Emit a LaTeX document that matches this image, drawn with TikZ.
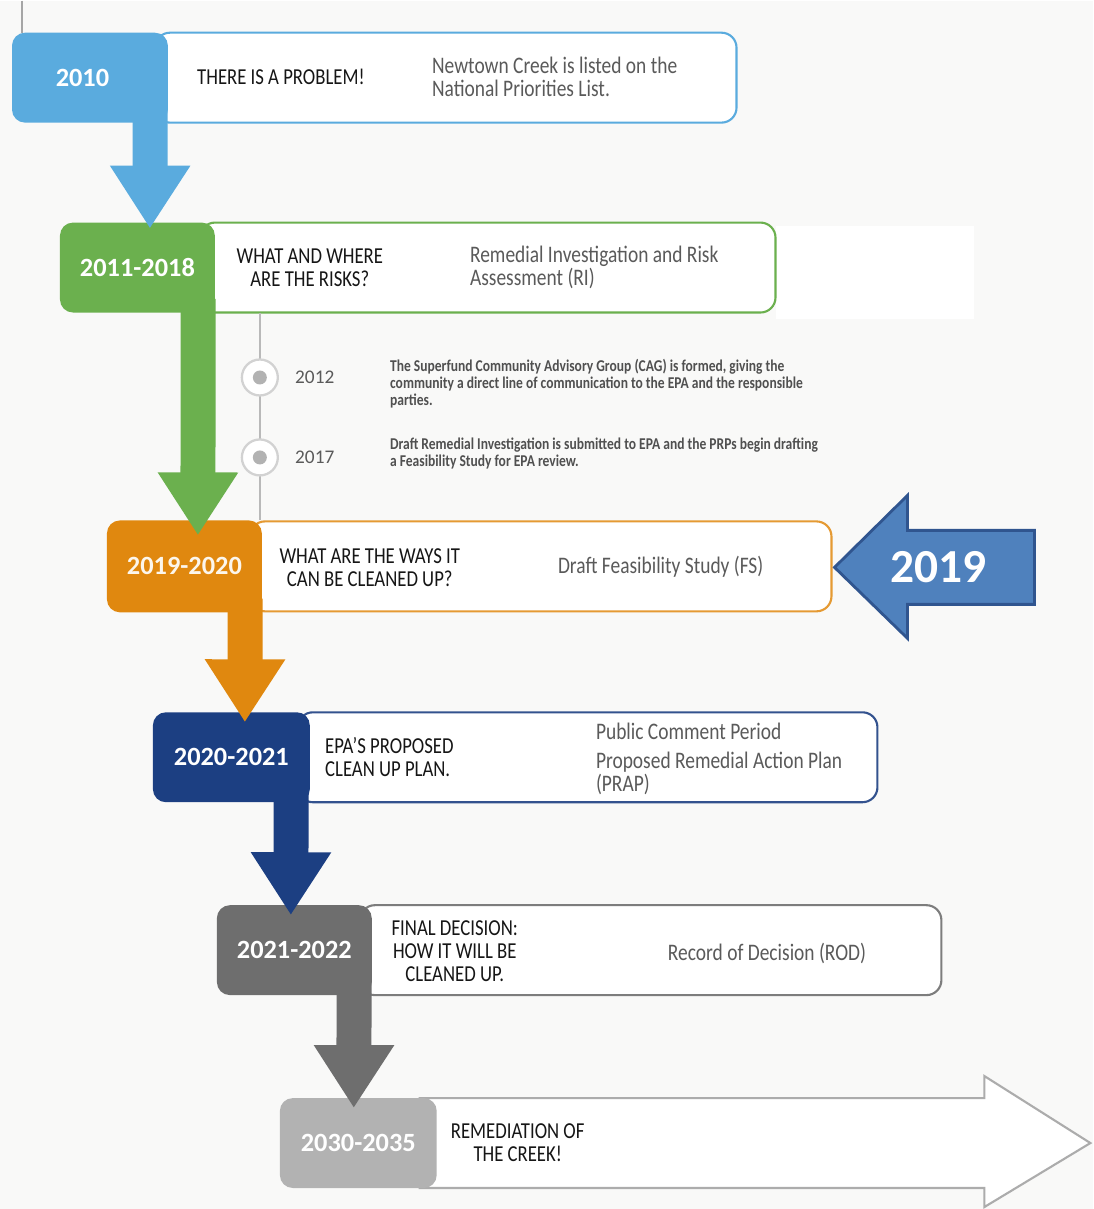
\documentclass[tikz,border=0pt]{standalone}
\usepackage{fontspec}
\setmainfont{Carlito}
\newfontfamily\narrowfont[FakeStretch=0.82]{Carlito}
\usetikzlibrary{arrows.meta}
\definecolor{sky}{HTML}{5AABDE}
\definecolor{leaf}{HTML}{6BB04E}
\definecolor{amber}{HTML}{E0880F}
\definecolor{navy}{HTML}{1C3F82}
\definecolor{slate}{HTML}{6E6E6E}
\definecolor{mist}{HTML}{B2B2B2}
\definecolor{callout}{HTML}{4F81BD}
\definecolor{calloutedge}{HTML}{30558F}
\definecolor{ink}{HTML}{161616}
\definecolor{muted}{HTML}{5A5A5A}
\definecolor{pagebg}{HTML}{F9F9F8}

\begin{document}
\begin{tikzpicture}[x=0.02cm, y=-0.02cm,
    tabbox/.style={fill=#1, rounded corners=0.26cm, minimum height=1.8cm,
      inner sep=0pt, text=white, font=\bfseries\fontsize{15}{18}\selectfont},
    bandbox/.style={draw=#1, line width=1.2pt, fill=white,
      rounded corners=0.3cm, minimum height=1.8cm, inner sep=0pt},
    askline/.style={font=\narrowfont\fontsize{13}{13}\selectfont, text=ink,
      align=center, inner sep=0pt},
    whatline/.style={font=\narrowfont\fontsize{13.5}{13}\selectfont,
      text=muted, align=left, anchor=west, inner sep=0pt},
    noteline/.style={font=\narrowfont\bfseries\fontsize{9.4}{9.6}\selectfont,
      text=ink!75, align=left, anchor=west, inner sep=0pt},
    droparrow/.style={draw=#1, line width=0.7cm,
      -{Triangle[width=1.52cm, length=1.26cm]}}]
    \fill[pagebg] (0,0) rectangle (1094,1209);
    \fill[white] (776,225) rectangle (975,318);
    \draw[gray!70, line width=0.8pt] (22,0) -- (22,32);

    \node[bandbox=sky, minimum width=11.64cm] (b1) at (446,77) {};
    \node[tabbox=sky, minimum width=3.12cm] (t1) at (90,77) {\hspace*{-0.3cm}2010};
    \node[askline, anchor=west] (h1) at (197,76) {THERE IS A PROBLEM!};
    \node[whatline] (d1) at (432,76)
      {Newtown Creek is listed on the\\National Priorities List.};

    \node[bandbox=leaf, minimum width=11.52cm] (b2) at (488,267) {};
    \node[tabbox=leaf, minimum width=3.1cm] (t2) at (137.5,267) {2011-2018};
    \node[askline] (h2) at (310,267) {WHAT AND WHERE\\ARE THE RISKS?};
    \node[whatline] (d2) at (470,267)
      {Remedial Investigation and Risk\\Assessment (RI)};

    \coordinate (v1) at (260,312);
    \coordinate (v2) at (260,520);
    \draw[gray!55, line width=0.8pt] (v1) -- (v2);
    \node[circle, draw=gray!35, line width=1.3pt, fill=white,
      minimum size=0.72cm] (c1) at (260,377) {};
    \node[circle, fill=gray!60, minimum size=0.28cm, inner sep=0pt]
      (c1dot) at (c1) {};
    \node[circle, draw=gray!35, line width=1.3pt, fill=white,
      minimum size=0.72cm] (c2) at (260,457) {};
    \node[circle, fill=gray!60, minimum size=0.28cm, inner sep=0pt]
      (c2dot) at (c2) {};
    \node[text=muted, font=\fontsize{11}{12}\selectfont, anchor=west,
      inner sep=0pt] (y1) at (295,377) {2012};
    \node[text=muted, font=\fontsize{11}{12}\selectfont, anchor=west,
      inner sep=0pt] (y2) at (295,457) {2017};
    \node[noteline] (s1) at (390,383)
      {The Superfund Community Advisory Group (CAG) is formed, giving the\\
      community a direct line of communication to the EPA and the responsible\\
      parties.};
    \node[noteline] (s2) at (390,453)
      {Draft Remedial Investigation is submitted to EPA and the PRPs begin drafting\\
      a Feasibility Study for EPA review.};

    \node[bandbox=amber!85, minimum width=11.64cm] (b3) at (541,566) {};
    \node[tabbox=amber, minimum width=3.1cm, minimum height=1.84cm,
      text=white!92!amber] (t3) at (184.5,566) {2019-2020};
    \node[askline] (h3) at (370,567) {WHAT ARE THE WAYS IT\\CAN BE CLEANED UP?};
    \node[whatline] (d3) at (558,566) {Draft Feasibility Study (FS)};

    \node[bandbox=navy!90, minimum width=11.6cm] (b4) at (588,757) {};
    \node[tabbox=navy, minimum width=3.14cm] (t4) at (231.5,757) {2020-2021};
    \node[askline, align=left, anchor=west] (h4) at (325,757)
      {EPA’S PROPOSED\\CLEAN UP PLAN.};
    \node[whatline] (d4a) at (596,731) {Public Comment Period};
    \node[whatline] (d4b) at (596,773) {Proposed Remedial Action Plan\\(PRAP)};

    \node[bandbox=slate!90, minimum width=11.64cm] (b5) at (651,950) {};
    \node[tabbox=slate, minimum width=3.1cm] (t5) at (294.5,950) {2021-2022};
    \node[askline] (h5) at (455,951)
      {FINAL DECISION:\\HOW IT WILL BE\\CLEANED UP.};
    \node[whatline] (d5) at (668,953) {Record of Decision (ROD)};

    \draw[fill=white, draw=gray!65, line width=1.2pt]
      (420,1098) -- (985,1098) -- (985,1076) -- (1091,1143)
      -- (985,1207) -- (985,1188) -- (420,1188) -- cycle;
    \node[tabbox=mist, minimum width=3.14cm] (t6) at (358.5,1143) {2030-2035};
    \node[askline] (h6) at (518,1143) {REMEDIATION OF\\THE CREEK!};

    \coordinate (a1) at (150,228);
    \coordinate (a2) at (198,535);
    \coordinate (a3) at (245,722);
    \coordinate (a4) at (291,915);
    \coordinate (a5) at (354,1108);
    \draw[droparrow=sky] ([shift={(-18,-14)}]t1.south east) -- (a1);
    \draw[droparrow=leaf] ([shift={(-17,-14)}]t2.south east) -- (a2);
    \draw[droparrow=amber] ([shift={(-17,-14)}]t3.south east) -- (a3);
    \draw[droparrow=navy] ([shift={(-19,-14)}]t4.south east) -- (a4);
    \draw[droparrow=slate] ([shift={(-18,-14)}]t5.south east) -- (a5);

    \draw[fill=callout, draw=calloutedge, line width=1.6pt]
      (835,567) -- (908,495) -- (908,530) -- (1035,530) -- (1035,604)
      -- (908,604) -- (908,638) -- cycle;
    \node[text=white, font=\bfseries\fontsize{27}{30}\selectfont] (yr)
      at (939,567) {2019};
  \end{tikzpicture}
\end{document}
